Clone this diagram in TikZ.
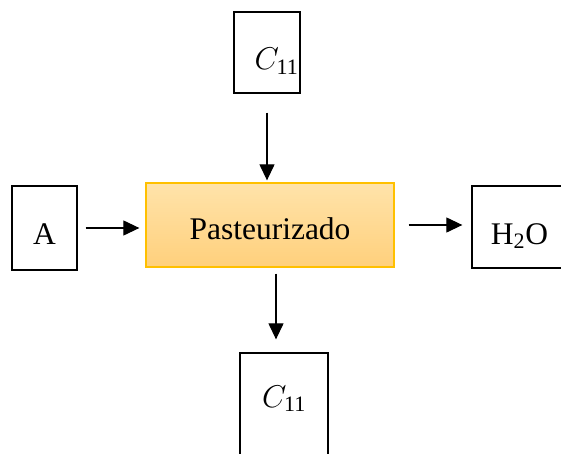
\documentclass[tikz,border=0pt]{standalone}
\usepackage{fix-cm}
\usepackage{fontspec}
\setmainfont{Liberation Serif}
\usepackage{tikz}
\usetikzlibrary{arrows.meta,positioning}
\definecolor{boxgold}{HTML}{FFC000}
\definecolor{pastetop}{HTML}{FFE3AA}
\definecolor{pastebot}{HTML}{FFD07C}
\newcommand{\celsub}{$C_{\mbox{\fontsize{22}{24}\selectfont 11}}$}
% put the baseline of #2 at #1 below the node centre
\newcommand{\base}[2]{\raisebox{-#1}[0pt][0pt]{#2}}

\begin{document}
\begin{tikzpicture}[
    x=1pt,y=-1pt,
    box/.style={rectangle,draw=black,line width=1.3pt,fill=white,inner sep=0pt,align=center,font=\fontsize{31.5}{37}\selectfont},
    process/.style={box,draw=boxgold,top color=pastetop,bottom color=pastebot},
    arrow/.style={-{Triangle[length=16pt,width=15pt]},line width=1.2pt}
]
\useasboundingbox (0,0) rectangle (561,454);
\clip (0,0) rectangle (561,454);

\node[process,minimum width=248,minimum height=84] (past) at (270,225) {\base{14.5pt}{Pasteurizado}};
\node[box,minimum width=66,minimum height=81] (cin) at (267,52.5) {\hspace*{19pt}\base{17.5pt}{\celsub}};
\node[box,minimum width=65,minimum height=84] (agua) at (44.5,228) {\base{16pt}{A}};
\node[box,minimum width=95,minimum height=82] (vapor) at (519.5,227) {\base{17pt}{H\textsubscript{2}O}};
\node[box,minimum width=88,minimum height=106] (cout) at (284,406) {\base{1pt}{\celsub}};

\draw[arrow,shorten <=19pt,shorten >=2pt] (cin.south) -- (cin.south |- past.north);
\draw[arrow,shorten <=8pt,shorten >=6pt] (agua.east) -- (agua.east -| past.west);
\draw[arrow,shorten <=14pt,shorten >=9pt] (past.east |- 0,225) -- (vapor.west |- 0,225);
\draw[arrow,shorten <=6pt,shorten >=13pt] (past.south -| 276,0) -- (cout.north -| 276,0);

\end{tikzpicture}
\end{document}
